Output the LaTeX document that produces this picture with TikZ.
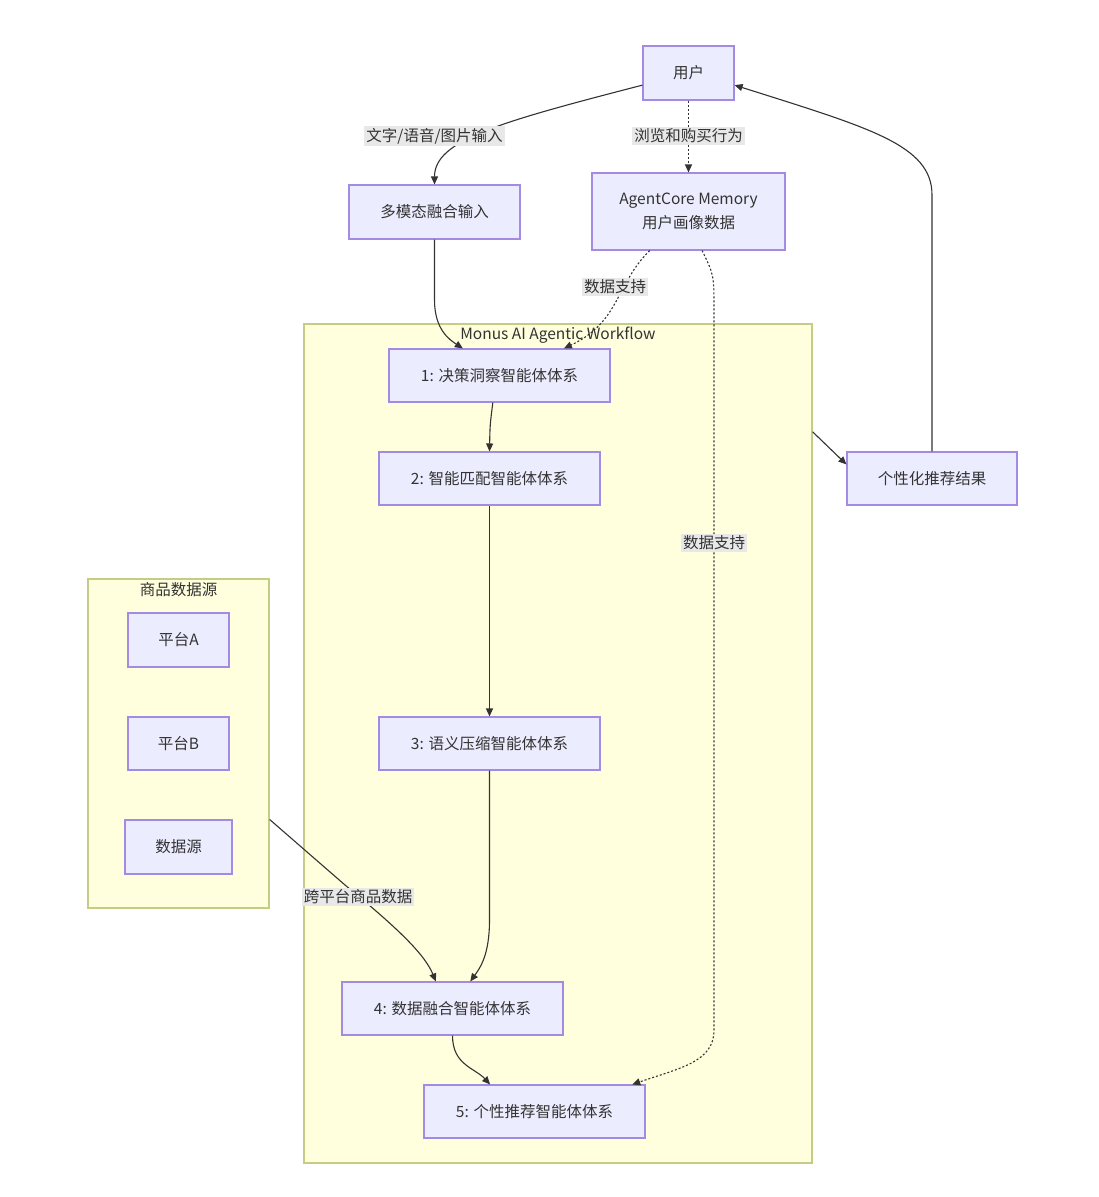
\documentclass[tikz,border=0pt]{standalone}
\usepackage{fontspec}
\setmainfont{Noto Sans CJK SC}
\usetikzlibrary{arrows.meta,calc}
\definecolor{nodefill}{HTML}{ECECFF}
\definecolor{nodeline}{HTML}{A38BE3}
\definecolor{clfill}{HTML}{FFFFDE}
\definecolor{clline}{HTML}{C3CD84}
\definecolor{txt}{HTML}{333333}
\definecolor{lblbg}{HTML}{E8E8E8}
\begin{document}
\begin{tikzpicture}[x=1pt,y=-1pt,
  font=\fontsize{15.5}{19}\selectfont,
  box/.style={draw=nodeline, fill=nodefill, line width=1.1pt, minimum height=54pt, inner sep=0pt, text=txt, align=center},
  cluster/.style={draw=clline, fill=clfill, line width=1.2pt, inner sep=0pt},
  ttl/.style={text=txt, inner sep=0pt},
  lbl/.style={fill=lblbg, text=txt, inner sep=2pt},
  edge/.style={draw=txt, line width=1.1pt, -{Triangle[length=8pt,width=7pt]}},
  dotedge/.style={edge, dash pattern=on 2pt off 2pt}]
\useasboundingbox (0,0) rectangle (1098,1197);
\fill[white] (0,0) rectangle (1098,1197);

% clusters
\node[cluster, minimum width=508pt, minimum height=839pt] (wf) at (558,743.5) {};
\node[ttl] (wftitle) at (558,335) {Monus AI Agentic Workflow};
\node[cluster, minimum width=181pt, minimum height=329pt] (shop) at (178.5,743.5) {};
\node[ttl] (shoptitle) at (178.5,590) {商品数据源};

% nodes
\node[box, minimum width=91pt] (user) at (688.5,73) {用户};
\node[box, minimum width=171pt] (multi) at (434.5,212) {多模态融合输入};
\node[box, minimum width=193pt, minimum height=77pt] (mem) at (688.5,211.5) {AgentCore Memory\\[5pt]用户画像数据};
\node[box, minimum width=221pt, minimum height=53pt] (n1) at (499.5,375.5) {1: 决策洞察智能体体系};
\node[box, minimum width=221pt, minimum height=53pt] (n2) at (489.5,478.5) {2: 智能匹配智能体体系};
\node[box, minimum width=221pt, minimum height=53pt] (n3) at (489.5,743.5) {3: 语义压缩智能体体系};
\node[box, minimum width=221pt, minimum height=53pt] (n4) at (452.5,1008.5) {4: 数据融合智能体体系};
\node[box, minimum width=221pt, minimum height=53pt] (n5) at (534.5,1111.5) {5: 个性推荐智能体体系};
\node[box, minimum width=170pt, minimum height=53pt] (res) at (932,478.5) {个性化推荐结果};
\node[box, minimum width=101pt] (pa) at (178.5,640) {平台A};
\node[box, minimum width=101pt, minimum height=53pt] (pb) at (178.5,743.5) {平台B};
\node[box, minimum width=107pt] (ds) at (178.5,847) {数据源};

% waypoint coordinates
\coordinate (uw) at ($(user.south west)!0.28!(user.north west)$);
\coordinate (ue) at ($(user.south east)!0.28!(user.north east)$);
\coordinate (m1) at ($(mem.south west)!0.30!(mem.south east)$);
\coordinate (m2) at ($(mem.south west)!0.57!(mem.south east)$);
\coordinate (n1a) at ($(n1.north west)!0.335!(n1.north east)$);
\coordinate (n1b) at ($(n1.north west)!0.79!(n1.north east)$);
\coordinate (n1s) at ($(n1.south west)!0.47!(n1.south east)$);
\coordinate (n4a) at ($(n4.north west)!0.425!(n4.north east)$);
\coordinate (n4b) at ($(n4.north west)!0.58!(n4.north east)$);
\coordinate (n5a) at ($(n5.north west)!0.30!(n5.north east)$);
\coordinate (n5b) at ($(n5.north west)!0.94!(n5.north east)$);
\coordinate (shopout) at ($(shop.south east)!0.27!(shop.north east)$);
\coordinate (wfout) at ($(wf.north east)!0.129!(wf.south east)$);
\coordinate (resin) at ($(res.north west)!0.24!(res.south west)$);

% edges
\draw[edge] (uw) .. controls (500,122) and (434.5,140) .. (multi.north);
\draw[dotedge] (user.south) -- (mem.north);
\draw[dotedge] (m1) .. controls (615,285) and (620,322) .. (n1b);
\draw[dotedge] (m2) .. controls (714,275) .. (714,310) -- (714,1030) .. controls (714,1062) and (680,1068) .. (n5b);
\draw[edge] (multi.south) -- (434.5,300) .. controls (434.5,330) and (450,340) .. (n1a);
\draw[edge] (n1s) .. controls (490,425) .. (n2.north);
\draw[edge] (n2.south) -- (n3.north);
\draw[edge] (n3.south) -- (489.5,920) .. controls (489.5,955) and (480,968) .. (n4b);
\draw[edge] (shopout) -- (345,885) .. controls (400,930) and (425,955) .. (n4a);
\draw[edge] (n4.south) .. controls (452.5,1065) and (475,1068) .. (n5a);
\draw[edge] (wfout) -- (resin);
\draw[edge] (res.north) -- (932,195) .. controls (932,145) and (870,128) .. (ue);

% edge labels
\node[lbl] (l1) at (434.5,136) {文字/语音/图片输入};
\node[lbl] (l2) at (688.5,136) {浏览和购买行为};
\node[lbl] (l3) at (615,287) {数据支持};
\node[lbl] (l4) at (714,543) {数据支持};
\node[lbl] (l5) at (358,897) {跨平台商品数据};
\end{tikzpicture}
\end{document}
